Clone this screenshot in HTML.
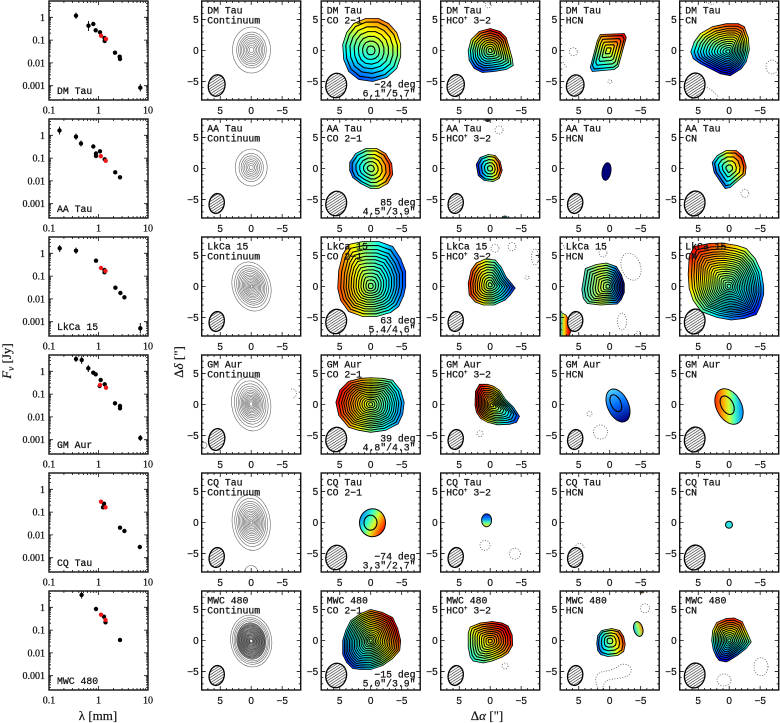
<!DOCTYPE html>
<html><head><meta charset="utf-8"><style>
html,body{margin:0;padding:0;background:#fff;}
svg{display:block;}
</style></head><body>
<svg width="780" height="723" viewBox="0 0 780 723" xmlns="http://www.w3.org/2000/svg" xmlns:xlink="http://www.w3.org/1999/xlink">
<defs>
<linearGradient id="jet">
<stop offset="0" stop-color="#000090"/><stop offset=".11" stop-color="#0000ff"/><stop offset=".36" stop-color="#00ffff"/><stop offset=".5" stop-color="#80ff80"/><stop offset=".62" stop-color="#ffff00"/><stop offset=".87" stop-color="#ff0000"/><stop offset="1" stop-color="#800000"/>
</linearGradient>
<linearGradient id="g1" xlink:href="#jet" gradientUnits="userSpaceOnUse" x1="-8" y1="51.7" x2="32" y2="-51.9"/>
<linearGradient id="g2" xlink:href="#jet" gradientUnits="userSpaceOnUse" x1="-15" y1="28.4" x2="5" y2="-27.6"/>
<linearGradient id="g3" xlink:href="#jet" gradientUnits="userSpaceOnUse" x1="-22.9" y1="37.1" x2="13.5" y2="-26.5"/>
<linearGradient id="g4" xlink:href="#jet" gradientUnits="userSpaceOnUse" x1="-0.5" y1="27.3" x2="9.9" y2="-38.9"/>
<linearGradient id="g5" xlink:href="#jet" gradientUnits="userSpaceOnUse" x1="-32.9" y1="6" x2="31.7" y2="-6"/>
<linearGradient id="g6" xlink:href="#jet" gradientUnits="userSpaceOnUse" x1="-17.5" y1="0.5" x2="16.7" y2="-4.7"/>
<linearGradient id="g7" xlink:href="#jet" gradientUnits="userSpaceOnUse" x1="-24.2" y1="4.7" x2="16.9" y2="-18.8"/>
<linearGradient id="g8" xlink:href="#jet" gradientUnits="userSpaceOnUse" x1="54.7" y1="-5" x2="-53.7" y2="8"/>
<linearGradient id="g9" xlink:href="#jet" gradientUnits="userSpaceOnUse" x1="33.9" y1="0" x2="-31.9" y2="0"/>
<linearGradient id="g10" gradientUnits="userSpaceOnUse" x1="-27" y1="0" x2="16" y2="0">
<stop offset="0" stop-color="#30d0c8"/><stop offset=".2" stop-color="#70f0a0"/><stop offset=".45" stop-color="#d0ff40"/><stop offset=".6" stop-color="#90ff70"/><stop offset=".75" stop-color="#00a8ff"/><stop offset=".9" stop-color="#0030d0"/><stop offset="1" stop-color="#000080"/>
</linearGradient>
<linearGradient id="g11" xlink:href="#jet" gradientUnits="userSpaceOnUse" x1="35.7" y1="39.7" x2="-45.1" y2="-49.3"/>
<linearGradient id="g12" xlink:href="#jet" gradientUnits="userSpaceOnUse" x1="55.4" y1="20.7" x2="-46.2" y2="-6.2"/>
<linearGradient id="g13" xlink:href="#jet" gradientUnits="userSpaceOnUse" x1="38" y1="11.7" x2="-22" y2="-6.9"/>
<linearGradient id="g14" gradientUnits="userSpaceOnUse" x1="0" y1="-17" x2="0" y2="17">
<stop offset="0" stop-color="#50d0ff"/><stop offset=".45" stop-color="#0070ff"/><stop offset="1" stop-color="#000080"/>
</linearGradient>
<linearGradient id="g15" gradientUnits="userSpaceOnUse" x1="-12" y1="-6" x2="12" y2="6">
<stop offset="0" stop-color="#ff3000"/><stop offset=".3" stop-color="#ffb000"/><stop offset=".5" stop-color="#d0ff30"/><stop offset=".7" stop-color="#40ffc0"/><stop offset="1" stop-color="#0090ff"/>
</linearGradient>
<linearGradient id="g16" gradientUnits="userSpaceOnUse" x1="-12" y1="-8" x2="12" y2="4">
<stop offset="0" stop-color="#0080ff"/><stop offset=".35" stop-color="#30ffd0"/><stop offset=".6" stop-color="#d0ff30"/><stop offset=".8" stop-color="#ff9000"/><stop offset="1" stop-color="#ff2000"/>
</linearGradient>
<linearGradient id="g17" gradientUnits="userSpaceOnUse" x1="0" y1="-6.5" x2="0" y2="6.5">
<stop offset="0" stop-color="#0020e0"/><stop offset=".4" stop-color="#0090ff"/><stop offset=".7" stop-color="#60ffa0"/><stop offset="1" stop-color="#ffe000"/>
</linearGradient>
<linearGradient id="g18" xlink:href="#jet" gradientUnits="userSpaceOnUse" x1="-35.6" y1="27" x2="35.1" y2="-19.7"/>
<linearGradient id="g19" xlink:href="#jet" gradientUnits="userSpaceOnUse" x1="-43.3" y1="43.3" x2="23.3" y2="-18.1"/>
<linearGradient id="g20" xlink:href="#jet" gradientUnits="userSpaceOnUse" x1="-21.6" y1="6" x2="21.5" y2="-5"/>
<linearGradient id="g21" gradientUnits="userSpaceOnUse" x1="-4.5" y1="0" x2="4.5" y2="0">
<stop offset="0" stop-color="#00c0ff"/><stop offset=".5" stop-color="#a0ff60"/><stop offset="1" stop-color="#ff8000"/>
</linearGradient>
<linearGradient id="g22" xlink:href="#jet" gradientUnits="userSpaceOnUse" x1="-0.3" y1="25.5" x2="3.6" y2="-30.4"/>
<linearGradient id="g23" gradientUnits="userSpaceOnUse" x1="560.5" y1="0" x2="571" y2="0">
<stop offset="0" stop-color="#20c0c0"/><stop offset=".35" stop-color="#ffe000"/><stop offset=".7" stop-color="#ff2000"/><stop offset="1" stop-color="#c00000"/>
</linearGradient>
<pattern id="ht" patternUnits="userSpaceOnUse" width="3.2" height="3.2"><rect width="3.2" height="3.2" fill="#fff"/><path d="M-0.8,0.8L0.8,-0.8M0,3.2L3.2,0M2.4,4L4,2.4" stroke="#000" stroke-width="0.55"/></pattern>

<g id="mf">
<rect x="-49.5" y="-49.5" width="99" height="99" fill="none" stroke="#111" stroke-width="1.4"/>
<path fill="none" stroke="#111" stroke-width="0.8" d="M-30.95,49.5v-4M0,49.5v-4M30.95,49.5v-4M-30.95,-49.5v4M0,-49.5v4M30.95,-49.5v4M-49.5,-30.95h4M-49.5,0h4M-49.5,30.95h4M49.5,-30.95h-4M49.5,0h-4M49.5,30.95h-4
M-43.33,49.5v-2M-37.14,49.5v-2M-24.76,49.5v-2M-18.57,49.5v-2M-12.38,49.5v-2M-6.19,49.5v-2M6.19,49.5v-2M12.38,49.5v-2M18.57,49.5v-2M24.76,49.5v-2M37.14,49.5v-2M43.33,49.5v-2
M-43.33,-49.5v2M-37.14,-49.5v2M-24.76,-49.5v2M-18.57,-49.5v2M-12.38,-49.5v2M-6.19,-49.5v2M6.19,-49.5v2M12.38,-49.5v2M18.57,-49.5v2M24.76,-49.5v2M37.14,-49.5v2M43.33,-49.5v2
M-49.5,-43.33h2M-49.5,-37.14h2M-49.5,-24.76h2M-49.5,-18.57h2M-49.5,-12.38h2M-49.5,-6.19h2M-49.5,6.19h2M-49.5,12.38h2M-49.5,18.57h2M-49.5,24.76h2M-49.5,37.14h2M-49.5,43.33h2
M49.5,-43.33h-2M49.5,-37.14h-2M49.5,-24.76h-2M49.5,-18.57h-2M49.5,-12.38h-2M49.5,-6.19h-2M49.5,6.19h-2M49.5,12.38h-2M49.5,18.57h-2M49.5,24.76h-2M49.5,37.14h-2M49.5,43.33h-2"/>
</g>

<g id="sf">
<rect x="0" y="0" width="99" height="99" fill="none" stroke="#111" stroke-width="1.4"/>
<path fill="none" stroke="#111" stroke-width="0.8" d="M49.5,99v-4M49.5,0v4
M14.9,99v-2M23.6,99v-2M29.8,99v-2M34.6,99v-2M38.5,99v-2M41.8,99v-2M44.7,99v-2M47.2,99v-2M64.4,99v-2M73.1,99v-2M79.3,99v-2M84.1,99v-2M88,99v-2M91.3,99v-2M94.2,99v-2M96.7,99v-2
M14.9,0v2M23.6,0v2M29.8,0v2M34.6,0v2M38.5,0v2M41.8,0v2M44.7,0v2M47.2,0v2M64.4,0v2M73.1,0v2M79.3,0v2M84.1,0v2M88,0v2M91.3,0v2M94.2,0v2M96.7,0v2
M0,16.3h4M0,39.1h4M0,61.9h4M0,84.7h4M99,16.3h-4M99,39.1h-4M99,61.9h-4M99,84.7h-4
M0,2.6h2M0,5.4h2M0,9.4h2M0,17.3h2M0,18.5h2M0,19.8h2M0,21.4h2M0,23.2h2M0,25.4h2M0,28.2h2M0,32.2h2M0,40.1h2M0,41.3h2M0,42.6h2M0,44.2h2M0,46h2M0,48.2h2M0,51h2M0,55h2M0,62.9h2M0,64.1h2M0,65.4h2M0,67h2M0,68.8h2M0,71h2M0,73.8h2M0,77.8h2M0,85.7h2M0,86.9h2M0,88.2h2M0,89.8h2M0,91.6h2M0,93.8h2M0,96.6h2
M99,2.6h-2M99,5.4h-2M99,9.4h-2M99,17.3h-2M99,18.5h-2M99,19.8h-2M99,21.4h-2M99,23.2h-2M99,25.4h-2M99,28.2h-2M99,32.2h-2M99,40.1h-2M99,41.3h-2M99,42.6h-2M99,44.2h-2M99,46h-2M99,48.2h-2M99,51h-2M99,55h-2M99,62.9h-2M99,64.1h-2M99,65.4h-2M99,67h-2M99,68.8h-2M99,71h-2M99,73.8h-2M99,77.8h-2M99,85.7h-2M99,86.9h-2M99,88.2h-2M99,89.8h-2M99,91.6h-2M99,93.8h-2M99,96.6h-2"/>
</g>

<path id="s1" vector-effect="non-scaling-stroke" d="M-28,-6 L-24,-18 L-17,-27 L-5,-32 L8,-32 L18,-27 L26,-18 L30,-6 L30,6 L26,18 L16,27 L2,31 L-12,29 L-22,21 L-27,9 Z"/>
<path id="s2" vector-effect="non-scaling-stroke" d="M-22,0 L-19,-11 L-11,-19 L0,-22 L10,-19 L16,-13 L19,-3 L22,8 L23,15 L16,19 L4,21 L-8,22 L-16,18 L-21,10 Z"/>
<path id="s3" vector-effect="non-scaling-stroke" d="M-8,-16 L16,-17 L18,-13 L10,16 L6,19 L-16,21 L-18,17 L-11,-10 Z"/>
<path id="s4" vector-effect="non-scaling-stroke" d="M-37.5,0 L-34,-10 L-28,-18 L-16,-25 L-2,-28 L10,-28 L16,-25 L20,-14 L21,-2 L18,10 L13,17 L2,24 L-8,22 L-18,17 L-28,12 L-35,7 Z"/>
<path id="s5" vector-effect="non-scaling-stroke" d="M-21,-6 L-15,-15 L-5,-20 L6,-20 L15,-15 L21,-5 L22,6 L17,15 L8,20 L0,20 L-10,15 L-18,9 L-21,2 Z"/>
<path id="s6" vector-effect="non-scaling-stroke" d="M-14,-4 L-10,-11 L-2,-14 L5,-13 L10,-7 L12,2 L9,10 L3,13 L-6,12 L-12,7 Z"/>
<path id="s7" vector-effect="non-scaling-stroke" d="M-17,-6 L-12,-13 L-3,-18 L7,-18 L14,-12 L17,-2 L16,6 L9,12 L1,19 L-4,20 L-9,13 L-15,4 Z"/>
<path id="s8" vector-effect="non-scaling-stroke" d="M-32,-16 L-28,-32 L-22,-42 L-8,-45 L8,-45 L22,-40 L30,-28 L35,-15 L35,0 L33,9 L28,20 L20,26 L6,30 L-8,30 L-22,25 L-30,14 L-33,2 Z"/>
<path id="s9" vector-effect="non-scaling-stroke" d="M-22,-2 L-19,-15 L-14,-22 L-5,-26 L5,-25 L11,-18 L16,-8 L21,-2 L25,3 L20,10 L15,15 L4,20 L-7,20 L-15,17 L-21,10 Z"/>
<path id="s10" vector-effect="non-scaling-stroke" d="M-26.5,3 L-25,-6 L-23,-18 L-12,-22 L-2,-23.5 L8,-20 L13,-12 L16,-3 L16,6 L13,13 L9,17.5 L-8,18.5 L-21,17 L-25,12 Z"/>
<path id="s11" vector-effect="non-scaling-stroke" d="M-41,-12 L-40,-30 L-35,-40 L-20,-43 L-7,-43.5 L8,-41 L17,-38 L26,-28 L32,-15 L34.5,0 L34.5,8 L31,20 L27,28 L15,32 L2,33.5 L-12,31 L-28,25 L-36,14 L-40,2 Z"/>
<path id="s12" vector-effect="non-scaling-stroke" d="M-34.8,-2 L-31,-14 L-22,-23 L-10,-26 L0,-26.5 L12,-26 L22,-24 L30,-14 L33.5,-2 L32,10 L27.5,19.5 L15,26 L0,28 L-12,26 L-22,23 L-32,11 Z"/>
<path id="s13" vector-effect="non-scaling-stroke" d="M-16.5,0 L-16,-14 L-12,-21 L-4,-21 L2,-19 L8,-15 L14,-6 L22,2 L28,11 L25,17 L18,19 L6,19.5 L-4,17 L-11,13 L-15,7 Z"/>
<path id="s14" vector-effect="non-scaling-stroke" d="M0,-31 L12,-28 L22,-23 L27,-12 L30,0 L29,10 L22,18 L12,25 L0,29 L-10,29 L-18,28 L-24,22 L-28,14 L-28,0 L-25,-10 L-20,-20 L-10,-27 Z"/>
<path id="s15" vector-effect="non-scaling-stroke" d="M-22,-8 L-20,-14 L-10,-18 L2,-19.5 L12,-18 L18,-15 L22,-6 L22.5,4 L18,12 L12,16 L2,20 L-7,22 L-17,20 L-20,16 L-22,6 Z"/>
<path id="s16" vector-effect="non-scaling-stroke" d="M-13,3 L-12,-5 L-8,-10 L2,-12 L10,-10 L14,-4 L15.5,4 L14,11 L8,15 L-2,16 L-9,14 L-12,10 Z"/>
<path id="s17" vector-effect="non-scaling-stroke" d="M-17.5,0 L-16.5,-10 L-12.5,-18 L-3,-22 L5,-22.5 L13,-19 L17,-10 L22,1.5 L17,8 L8,15 L0,20 L-3,21.5 L-10,20 L-13,16 L-16,9 Z"/>

<ellipse id="c1" rx="19" ry="23" vector-effect="non-scaling-stroke"/>
<ellipse id="c2" rx="16" ry="18.5" vector-effect="non-scaling-stroke"/>
<ellipse id="c3" rx="19" ry="25" vector-effect="non-scaling-stroke"/>
<ellipse id="c4" rx="19.5" ry="27" vector-effect="non-scaling-stroke"/>
<ellipse id="c5" rx="19" ry="28" vector-effect="non-scaling-stroke"/>
<ellipse id="c6" rx="20.5" ry="26" vector-effect="non-scaling-stroke"/>
</defs>

<rect width="780" height="723" fill="#fff"/>

<!-- ========== CONTINUUM ========== -->
<g fill="none" stroke="#666" stroke-width="0.6">
<g transform="translate(251.5,50)"><use xlink:href="#c1"/><use xlink:href="#c1" transform="scale(.78)"/><use xlink:href="#c1" transform="scale(.68)"/><use xlink:href="#c1" transform="scale(.6)"/><use xlink:href="#c1" transform="scale(.52)"/><use xlink:href="#c1" transform="scale(.44)"/><use xlink:href="#c1" transform="scale(.36)"/><use xlink:href="#c1" transform="scale(.28)"/><use xlink:href="#c1" transform="scale(.2)"/><use xlink:href="#c1" transform="scale(.12)"/></g>
<g transform="translate(251.2,167.5)"><use xlink:href="#c2"/><use xlink:href="#c2" transform="scale(.76)"/><use xlink:href="#c2" transform="scale(.63)"/><use xlink:href="#c2" transform="scale(.52)"/><use xlink:href="#c2" transform="scale(.42)"/><use xlink:href="#c2" transform="scale(.32)"/><use xlink:href="#c2" transform="scale(.22)"/><use xlink:href="#c2" transform="scale(.12)"/></g>
<g transform="translate(251.5,286.5) rotate(-18)"><use xlink:href="#c3"/><use xlink:href="#c3" transform="scale(.86)"/><use xlink:href="#c3" transform="scale(.76)"/><use xlink:href="#c3" transform="scale(.68)"/><use xlink:href="#c3" transform="scale(.61)"/><use xlink:href="#c3" transform="scale(.54)"/><use xlink:href="#c3" transform="scale(.47)"/><use xlink:href="#c3" transform="scale(.41)"/><use xlink:href="#c3" transform="scale(.35)"/><use xlink:href="#c3" transform="scale(.29)"/><use xlink:href="#c3" transform="scale(.23)"/><use xlink:href="#c3" transform="scale(.17)"/><use xlink:href="#c3" transform="scale(.11)"/><use xlink:href="#c3" transform="scale(.06)"/></g>
<g transform="translate(251.2,404) rotate(-8)"><use xlink:href="#c4"/><use xlink:href="#c4" transform="scale(.86)"/><use xlink:href="#c4" transform="scale(.75)"/><use xlink:href="#c4" transform="scale(.66)"/><use xlink:href="#c4" transform="scale(.58)"/><use xlink:href="#c4" transform="scale(.51)"/><use xlink:href="#c4" transform="scale(.45)"/><use xlink:href="#c4" transform="scale(.39)"/><use xlink:href="#c4" transform="scale(.33)"/><use xlink:href="#c4" transform="scale(.28)"/><use xlink:href="#c4" transform="scale(.23)"/><use xlink:href="#c4" transform="scale(.18)"/><use xlink:href="#c4" transform="scale(.13)"/><use xlink:href="#c4" transform="scale(.08)"/></g>
<g transform="translate(251.2,522.5) rotate(-6)"><use xlink:href="#c5"/><use xlink:href="#c5" transform="scale(.86)"/><use xlink:href="#c5" transform="scale(.76)"/><use xlink:href="#c5" transform="scale(.68)"/><use xlink:href="#c5" transform="scale(.61)"/><use xlink:href="#c5" transform="scale(.54)"/><use xlink:href="#c5" transform="scale(.47)"/><use xlink:href="#c5" transform="scale(.41)"/><use xlink:href="#c5" transform="scale(.35)"/><use xlink:href="#c5" transform="scale(.29)"/><use xlink:href="#c5" transform="scale(.23)"/><use xlink:href="#c5" transform="scale(.17)"/><use xlink:href="#c5" transform="scale(.11)"/><use xlink:href="#c5" transform="scale(.06)"/></g>
<g transform="translate(251.2,641) rotate(-8)"><use xlink:href="#c6"/><use xlink:href="#c6" transform="scale(.9)"/><use xlink:href="#c6" transform="scale(.83)"/><use xlink:href="#c6" transform="scale(.77)"/>
<g stroke="#333"><use xlink:href="#c6" transform="scale(.7)"/><use xlink:href="#c6" transform="scale(.665)"/><use xlink:href="#c6" transform="scale(.63)"/><use xlink:href="#c6" transform="scale(.595)"/><use xlink:href="#c6" transform="scale(.56)"/><use xlink:href="#c6" transform="scale(.525)"/><use xlink:href="#c6" transform="scale(.49)"/><use xlink:href="#c6" transform="scale(.455)"/><use xlink:href="#c6" transform="scale(.42)"/><use xlink:href="#c6" transform="scale(.385)"/><use xlink:href="#c6" transform="scale(.35)"/><use xlink:href="#c6" transform="scale(.315)"/><use xlink:href="#c6" transform="scale(.28)"/><use xlink:href="#c6" transform="scale(.245)"/><use xlink:href="#c6" transform="scale(.21)"/><use xlink:href="#c6" transform="scale(.175)"/><use xlink:href="#c6" transform="scale(.14)"/><use xlink:href="#c6" transform="scale(.105)"/><use xlink:href="#c6" transform="scale(.07)"/></g></g>
<circle cx="204" cy="445.3" r="3"/>
<path d="M244.7,572 A6.5,6.5 0 0 1 257.7,572"/>
</g>

<!-- ========== COLOUR MAPS ========== -->
<g transform="translate(370.7,50.5)"><use xlink:href="#s1" fill="url(#g1)"/><g fill="none" stroke="#000" stroke-width="1.1"><use xlink:href="#s1" stroke-width=".8"/><use xlink:href="#s1" transform="scale(.14)"/><use xlink:href="#s1" transform="scale(.29)"/><use xlink:href="#s1" transform="scale(.44)"/><use xlink:href="#s1" transform="scale(.59)"/><use xlink:href="#s1" transform="scale(.74)"/><use xlink:href="#s1" transform="scale(.89)"/></g></g>
<g transform="translate(490.2,50.5)"><use xlink:href="#s2" fill="url(#g2)"/><g fill="none" stroke="#000" stroke-width="1.1"><use xlink:href="#s2" stroke-width=".8"/><use xlink:href="#s2" transform="scale(.09)"/><use xlink:href="#s2" transform="scale(.19)"/><use xlink:href="#s2" transform="scale(.29)"/><use xlink:href="#s2" transform="scale(.39)"/><use xlink:href="#s2" transform="scale(.49)"/><use xlink:href="#s2" transform="scale(.59)"/><use xlink:href="#s2" transform="scale(.69)"/><use xlink:href="#s2" transform="scale(.79)"/><use xlink:href="#s2" transform="scale(.9)"/></g></g>
<g transform="translate(608.3,50.5)"><use xlink:href="#s3" fill="url(#g3)"/><g fill="none" stroke="#000" stroke-width="1.1"><use xlink:href="#s3" stroke-width=".8"/><use xlink:href="#s3" transform="scale(.16)"/><use xlink:href="#s3" transform="scale(.34)"/><use xlink:href="#s3" transform="scale(.52)"/><use xlink:href="#s3" transform="scale(.7)"/><use xlink:href="#s3" transform="scale(.88)"/></g></g>
<g transform="translate(728.3,51.7)"><use xlink:href="#s4" fill="url(#g4)"/><g fill="none" stroke="#000" stroke-width="1"><use xlink:href="#s4" stroke-width=".8"/><use xlink:href="#s4" transform="scale(.07)"/><use xlink:href="#s4" transform="scale(.145)"/><use xlink:href="#s4" transform="scale(.22)"/><use xlink:href="#s4" transform="scale(.295)"/><use xlink:href="#s4" transform="scale(.37)"/><use xlink:href="#s4" transform="scale(.445)"/><use xlink:href="#s4" transform="scale(.52)"/><use xlink:href="#s4" transform="scale(.595)"/><use xlink:href="#s4" transform="scale(.67)"/><use xlink:href="#s4" transform="scale(.745)"/><use xlink:href="#s4" transform="scale(.82)"/><use xlink:href="#s4" transform="scale(.91)"/></g></g>

<g transform="translate(370.7,168.5)"><use xlink:href="#s5" fill="url(#g5)"/><g fill="none" stroke="#000" stroke-width="1.1"><use xlink:href="#s5" stroke-width=".8"/><use xlink:href="#s5" transform="scale(.16)"/><use xlink:href="#s5" transform="scale(.34)"/><use xlink:href="#s5" transform="scale(.52)"/><use xlink:href="#s5" transform="scale(.7)"/><use xlink:href="#s5" transform="scale(.88)"/></g></g>
<g transform="translate(490.2,168.5)"><use xlink:href="#s6" fill="url(#g6)"/><g fill="none" stroke="#000" stroke-width="1.1"><use xlink:href="#s6" stroke-width=".8"/><use xlink:href="#s6" transform="scale(.2)"/><use xlink:href="#s6" transform="scale(.42)"/><use xlink:href="#s6" transform="scale(.64)"/><use xlink:href="#s6" transform="scale(.86)"/></g></g>
<ellipse cx="606.5" cy="171.5" rx="4.5" ry="9" transform="rotate(10 606.5 171.5)" fill="#00007a" stroke="#000" stroke-width=".6"/>
<g transform="translate(729.2,168.5)"><use xlink:href="#s7" fill="url(#g7)"/><g fill="none" stroke="#000" stroke-width="1.1"><use xlink:href="#s7" stroke-width=".8"/><use xlink:href="#s7" transform="scale(.2)"/><use xlink:href="#s7" transform="scale(.42)"/><use xlink:href="#s7" transform="scale(.64)"/><use xlink:href="#s7" transform="scale(.86)"/></g></g>

<g transform="translate(370.7,286.5)"><use xlink:href="#s8" fill="url(#g8)"/><g fill="none" stroke="#000" stroke-width="1.05"><use xlink:href="#s8" stroke-width=".8"/><use xlink:href="#s8" transform="scale(.07)"/><use xlink:href="#s8" transform="scale(.145)"/><use xlink:href="#s8" transform="scale(.22)"/><use xlink:href="#s8" transform="scale(.295)"/><use xlink:href="#s8" transform="scale(.37)"/><use xlink:href="#s8" transform="scale(.445)"/><use xlink:href="#s8" transform="scale(.52)"/><use xlink:href="#s8" transform="scale(.595)"/><use xlink:href="#s8" transform="scale(.67)"/><use xlink:href="#s8" transform="scale(.745)"/><use xlink:href="#s8" transform="scale(.82)"/><use xlink:href="#s8" transform="scale(.91)"/></g></g>
<g transform="translate(490.2,285)"><use xlink:href="#s9" fill="url(#g9)"/><g fill="none" stroke="#000" stroke-width="1.05"><use xlink:href="#s9" stroke-width=".8"/><use xlink:href="#s9" transform="scale(.09)"/><use xlink:href="#s9" transform="scale(.19)"/><use xlink:href="#s9" transform="scale(.29)"/><use xlink:href="#s9" transform="scale(.39)"/><use xlink:href="#s9" transform="scale(.49)"/><use xlink:href="#s9" transform="scale(.59)"/><use xlink:href="#s9" transform="scale(.69)"/><use xlink:href="#s9" transform="scale(.79)"/><use xlink:href="#s9" transform="scale(.9)"/></g></g>
<path d="M560.5,312 L566,315 L570,322 L571.5,330 L569,336 L560.5,336 Z" fill="url(#g23)" stroke="#000" stroke-width=".7"/>
<g transform="translate(608.3,286.5)"><use xlink:href="#s10" fill="url(#g10)"/><g fill="none" stroke="#000" stroke-width="1.05"><use xlink:href="#s10" stroke-width=".8"/><use xlink:href="#s10" transform="scale(.09)"/><use xlink:href="#s10" transform="scale(.19)"/><use xlink:href="#s10" transform="scale(.29)"/><use xlink:href="#s10" transform="scale(.39)"/><use xlink:href="#s10" transform="scale(.49)"/><use xlink:href="#s10" transform="scale(.59)"/><use xlink:href="#s10" transform="scale(.69)"/><use xlink:href="#s10" transform="scale(.79)"/><use xlink:href="#s10" transform="scale(.9)"/></g></g>
<g transform="translate(729.2,286.5)"><use xlink:href="#s11" fill="url(#g11)"/><g fill="none" stroke="#000" stroke-width=".95"><use xlink:href="#s11" stroke-width=".8"/><use xlink:href="#s11" transform="scale(.05)"/><use xlink:href="#s11" transform="scale(.1)"/><use xlink:href="#s11" transform="scale(.15)"/><use xlink:href="#s11" transform="scale(.2)"/><use xlink:href="#s11" transform="scale(.25)"/><use xlink:href="#s11" transform="scale(.3)"/><use xlink:href="#s11" transform="scale(.35)"/><use xlink:href="#s11" transform="scale(.4)"/><use xlink:href="#s11" transform="scale(.45)"/><use xlink:href="#s11" transform="scale(.5)"/><use xlink:href="#s11" transform="scale(.55)"/><use xlink:href="#s11" transform="scale(.6)"/><use xlink:href="#s11" transform="scale(.65)"/><use xlink:href="#s11" transform="scale(.7)"/><use xlink:href="#s11" transform="scale(.75)"/><use xlink:href="#s11" transform="scale(.8)"/><use xlink:href="#s11" transform="scale(.86)"/><use xlink:href="#s11" transform="scale(.92)"/></g></g>

<g transform="translate(370.7,404.3)"><use xlink:href="#s12" fill="url(#g12)"/><g fill="none" stroke="#000" stroke-width="1"><use xlink:href="#s12" stroke-width=".8"/><use xlink:href="#s12" transform="scale(.06)"/><use xlink:href="#s12" transform="scale(.125)"/><use xlink:href="#s12" transform="scale(.19)"/><use xlink:href="#s12" transform="scale(.255)"/><use xlink:href="#s12" transform="scale(.32)"/><use xlink:href="#s12" transform="scale(.385)"/><use xlink:href="#s12" transform="scale(.45)"/><use xlink:href="#s12" transform="scale(.515)"/><use xlink:href="#s12" transform="scale(.58)"/><use xlink:href="#s12" transform="scale(.645)"/><use xlink:href="#s12" transform="scale(.71)"/><use xlink:href="#s12" transform="scale(.775)"/><use xlink:href="#s12" transform="scale(.84)"/><use xlink:href="#s12" transform="scale(.92)"/></g></g>
<g transform="translate(491.5,405.3)"><use xlink:href="#s13" fill="url(#g13)"/><g fill="none" stroke="#000" stroke-width="1.05"><use xlink:href="#s13" stroke-width=".8"/><use xlink:href="#s13" transform="scale(.08)"/><use xlink:href="#s13" transform="scale(.17)"/><use xlink:href="#s13" transform="scale(.26)"/><use xlink:href="#s13" transform="scale(.35)"/><use xlink:href="#s13" transform="scale(.44)"/><use xlink:href="#s13" transform="scale(.53)"/><use xlink:href="#s13" transform="scale(.62)"/><use xlink:href="#s13" transform="scale(.71)"/><use xlink:href="#s13" transform="scale(.8)"/><use xlink:href="#s13" transform="scale(.9)"/></g></g>
<g transform="translate(618,405.5) rotate(-25)"><ellipse rx="10.5" ry="17.5" fill="url(#g14)" stroke="#000" stroke-width=".9"/><ellipse cx="-1" cy="-3" rx="5" ry="9" fill="none" stroke="#000" stroke-width="1.1"/></g>
<g transform="translate(729,406.5) rotate(-28)"><ellipse rx="12.5" ry="19" fill="url(#g15)" stroke="#000" stroke-width=".9"/><ellipse cx="-1" cy="-2" rx="6" ry="10" fill="none" stroke="#000" stroke-width="1.1"/></g>

<g transform="translate(372.5,522.7)"><ellipse rx="13" ry="14" fill="url(#g16)" stroke="#000" stroke-width="1"/><ellipse cx="-2" cy="0" rx="6.5" ry="7.5" fill="none" stroke="#000" stroke-width="1.1"/></g>
<g transform="translate(486.6,520.3)"><ellipse rx="5" ry="6.5" fill="url(#g17)" stroke="#000" stroke-width=".9"/></g>
<circle cx="729" cy="524.7" r="3.5" fill="#30e0e0" stroke="#000" stroke-width="1"/>

<g transform="translate(370.7,640.5)"><use xlink:href="#s14" fill="url(#g18)"/><g fill="none" stroke="#000" stroke-width="1"><use xlink:href="#s14" stroke-width=".8"/><use xlink:href="#s14" transform="scale(.055)"/><use xlink:href="#s14" transform="scale(.11)"/><use xlink:href="#s14" transform="scale(.165)"/><use xlink:href="#s14" transform="scale(.22)"/><use xlink:href="#s14" transform="scale(.28)"/><use xlink:href="#s14" transform="scale(.34)"/><use xlink:href="#s14" transform="scale(.4)"/><use xlink:href="#s14" transform="scale(.46)"/><use xlink:href="#s14" transform="scale(.52)"/><use xlink:href="#s14" transform="scale(.58)"/><use xlink:href="#s14" transform="scale(.64)"/><use xlink:href="#s14" transform="scale(.7)"/><use xlink:href="#s14" transform="scale(.76)"/><use xlink:href="#s14" transform="scale(.82)"/><use xlink:href="#s14" transform="scale(.88)"/><use xlink:href="#s14" transform="scale(.94)"/></g></g>
<g transform="translate(490.2,641)"><use xlink:href="#s15" fill="url(#g19)"/><g fill="none" stroke="#000" stroke-width="1.05"><use xlink:href="#s15" stroke-width=".8"/><use xlink:href="#s15" transform="scale(.09)"/><use xlink:href="#s15" transform="scale(.19)"/><use xlink:href="#s15" transform="scale(.29)"/><use xlink:href="#s15" transform="scale(.39)"/><use xlink:href="#s15" transform="scale(.49)"/><use xlink:href="#s15" transform="scale(.59)"/><use xlink:href="#s15" transform="scale(.69)"/><use xlink:href="#s15" transform="scale(.79)"/><use xlink:href="#s15" transform="scale(.9)"/></g></g>
<g transform="translate(609.7,640.5)"><use xlink:href="#s16" fill="url(#g20)"/><g fill="none" stroke="#000" stroke-width="1.1"><use xlink:href="#s16" stroke-width=".8"/><use xlink:href="#s16" transform="scale(.2)"/><use xlink:href="#s16" transform="scale(.42)"/><use xlink:href="#s16" transform="scale(.64)"/><use xlink:href="#s16" transform="scale(.86)"/></g></g>
<g transform="translate(638.3,629) rotate(-15)"><ellipse rx="4.5" ry="7.5" fill="url(#g21)" stroke="#000" stroke-width="1"/></g>
<g transform="translate(729.2,640.5)"><use xlink:href="#s17" fill="url(#g22)"/><g fill="none" stroke="#000" stroke-width="1.05"><use xlink:href="#s17" stroke-width=".8"/><use xlink:href="#s17" transform="scale(.08)"/><use xlink:href="#s17" transform="scale(.17)"/><use xlink:href="#s17" transform="scale(.26)"/><use xlink:href="#s17" transform="scale(.35)"/><use xlink:href="#s17" transform="scale(.44)"/><use xlink:href="#s17" transform="scale(.53)"/><use xlink:href="#s17" transform="scale(.62)"/><use xlink:href="#s17" transform="scale(.71)"/><use xlink:href="#s17" transform="scale(.8)"/><use xlink:href="#s17" transform="scale(.9)"/></g></g>

<ellipse cx="487.6" cy="120.5" rx="2.5" ry="1.5" fill="#222"/>
<ellipse cx="505" cy="217" rx="2.5" ry="1.5" fill="#205050"/>
<ellipse cx="641.8" cy="592" rx="2.5" ry="1.5" fill="#543"/>

<g fill="none" stroke="#555" stroke-width=".8" stroke-dasharray="1 1.6">
<circle cx="488.3" cy="5" r="3"/>
<circle cx="573.3" cy="51.7" r="4"/>
<circle cx="610" cy="81.7" r="2"/>
<path d="M563,62 l4,6 M566,88 l3,4"/>
<ellipse cx="772" cy="67" rx="6" ry="7"/>
<path d="M702,86 Q712,88 718,97"/>
<path d="M706,2 q4,3 8,2"/>
<circle cx="499" cy="130" r="4"/>
<circle cx="744.8" cy="193.3" r="4"/>
<circle cx="495" cy="248.3" r="4"/>
<circle cx="512" cy="246.7" r="4"/>
<ellipse cx="535" cy="257" rx="3.5" ry="8"/>
<circle cx="527" cy="277.7" r="2"/>
<ellipse cx="631" cy="266.7" rx="9.5" ry="14" transform="rotate(-20 631 266.7)"/>
<circle cx="603" cy="253" r="4"/>
<ellipse cx="622" cy="321.5" rx="4.5" ry="8.5"/>
<circle cx="638" cy="333" r="2"/>
<path d="M562,243 q3,3 2,7"/>
<path d="M291,389 a4,4 0 0 1 2,9"/>
<circle cx="480" cy="433.7" r="3"/>
<circle cx="600.5" cy="432" r="7"/>
<circle cx="589.5" cy="413.7" r="2.5"/>
<circle cx="485" cy="545.3" r="5"/>
<circle cx="515" cy="553.7" r="5.5"/>
<path d="M575,548 a4.5,4.5 0 0 1 9,0"/>
<path d="M205,598 a5,5 0 0 1 8,-5"/>
<circle cx="505" cy="666" r="3"/>
<circle cx="645" cy="608.3" r="4.5"/>
<path d="M599,690 C596,684 594,678 598,674 C602,670 612,672 620,665 C628,662 634,668 630,674 C626,679 612,678 606,681 C603,684 603,688 602,690"/>
<ellipse cx="724" cy="680" rx="7" ry="6"/>
<ellipse cx="761" cy="666.7" rx="7" ry="9"/>
</g>

<g fill="url(#ht)" stroke="#000" stroke-width="1.3">
<ellipse cx="216.7" cy="85.5" rx="8.3" ry="10.8" transform="rotate(12 216.7 85.5)"/>
<ellipse cx="336.2" cy="85.5" rx="10.3" ry="12.3" transform="rotate(12 336.2 85.5)"/>
<ellipse cx="455.7" cy="85.5" rx="8.5" ry="11" transform="rotate(12 455.7 85.5)"/>
<ellipse cx="575.2" cy="85.5" rx="8.7" ry="10.7" transform="rotate(12 575.2 85.5)"/>
<ellipse cx="694.7" cy="85.5" rx="10.2" ry="12.5" transform="rotate(12 694.7 85.5)"/>
<ellipse cx="216.7" cy="203.5" rx="7.5" ry="10" transform="rotate(12 216.7 203.5)"/>
<ellipse cx="336.2" cy="203.5" rx="10.3" ry="12.3" transform="rotate(12 336.2 203.5)"/>
<ellipse cx="455.7" cy="203.5" rx="7.5" ry="10" transform="rotate(12 455.7 203.5)"/>
<ellipse cx="575.2" cy="203.5" rx="7.5" ry="10" transform="rotate(12 575.2 203.5)"/>
<ellipse cx="694.7" cy="203.5" rx="10.2" ry="12.5" transform="rotate(12 694.7 203.5)"/>
<ellipse cx="216.7" cy="321.5" rx="7.5" ry="10" transform="rotate(12 216.7 321.5)"/>
<ellipse cx="336.2" cy="321.5" rx="10.3" ry="12.3" transform="rotate(12 336.2 321.5)"/>
<ellipse cx="455.7" cy="321.5" rx="7.5" ry="10" transform="rotate(12 455.7 321.5)"/>
<ellipse cx="575.2" cy="321.5" rx="7.5" ry="10" transform="rotate(12 575.2 321.5)"/>
<ellipse cx="694.7" cy="321.5" rx="10.2" ry="12.5" transform="rotate(12 694.7 321.5)"/>
<ellipse cx="216.7" cy="439.5" rx="8" ry="11" transform="rotate(12 216.7 439.5)"/>
<ellipse cx="336.2" cy="439.5" rx="10.3" ry="12.3" transform="rotate(12 336.2 439.5)"/>
<ellipse cx="455.7" cy="439.5" rx="7.5" ry="10" transform="rotate(12 455.7 439.5)"/>
<ellipse cx="575.2" cy="439.5" rx="7.5" ry="10" transform="rotate(12 575.2 439.5)"/>
<ellipse cx="694.7" cy="439.5" rx="10.2" ry="12.5" transform="rotate(12 694.7 439.5)"/>
<ellipse cx="216.7" cy="557.5" rx="7.5" ry="10" transform="rotate(12 216.7 557.5)"/>
<ellipse cx="336.2" cy="557.5" rx="10.3" ry="12.3" transform="rotate(12 336.2 557.5)"/>
<ellipse cx="455.7" cy="557.5" rx="7.5" ry="10" transform="rotate(12 455.7 557.5)"/>
<ellipse cx="575.2" cy="557.5" rx="7.5" ry="10" transform="rotate(12 575.2 557.5)"/>
<ellipse cx="694.7" cy="557.5" rx="10.2" ry="12.5" transform="rotate(12 694.7 557.5)"/>
<ellipse cx="216.7" cy="675.5" rx="7.5" ry="10" transform="rotate(12 216.7 675.5)"/>
<ellipse cx="336.2" cy="675.5" rx="10.3" ry="12.3" transform="rotate(12 336.2 675.5)"/>
<ellipse cx="455.7" cy="675.5" rx="7.5" ry="10" transform="rotate(12 455.7 675.5)"/>
<ellipse cx="575.2" cy="675.5" rx="7.5" ry="10" transform="rotate(12 575.2 675.5)"/>
<ellipse cx="694.7" cy="675.5" rx="10.2" ry="12.5" transform="rotate(12 694.7 675.5)"/>
</g>

<use xlink:href="#sf" x="49" y="1"/><use xlink:href="#sf" x="49" y="119"/><use xlink:href="#sf" x="49" y="237"/><use xlink:href="#sf" x="49" y="355"/><use xlink:href="#sf" x="49" y="473"/><use xlink:href="#sf" x="49" y="591"/>
<use xlink:href="#mf" x="251.2" y="50.5"/><use xlink:href="#mf" x="370.7" y="50.5"/><use xlink:href="#mf" x="490.2" y="50.5"/><use xlink:href="#mf" x="609.7" y="50.5"/><use xlink:href="#mf" x="729.2" y="50.5"/>
<use xlink:href="#mf" x="251.2" y="168.5"/><use xlink:href="#mf" x="370.7" y="168.5"/><use xlink:href="#mf" x="490.2" y="168.5"/><use xlink:href="#mf" x="609.7" y="168.5"/><use xlink:href="#mf" x="729.2" y="168.5"/>
<use xlink:href="#mf" x="251.2" y="286.5"/><use xlink:href="#mf" x="370.7" y="286.5"/><use xlink:href="#mf" x="490.2" y="286.5"/><use xlink:href="#mf" x="609.7" y="286.5"/><use xlink:href="#mf" x="729.2" y="286.5"/>
<use xlink:href="#mf" x="251.2" y="404.5"/><use xlink:href="#mf" x="370.7" y="404.5"/><use xlink:href="#mf" x="490.2" y="404.5"/><use xlink:href="#mf" x="609.7" y="404.5"/><use xlink:href="#mf" x="729.2" y="404.5"/>
<use xlink:href="#mf" x="251.2" y="522.5"/><use xlink:href="#mf" x="370.7" y="522.5"/><use xlink:href="#mf" x="490.2" y="522.5"/><use xlink:href="#mf" x="609.7" y="522.5"/><use xlink:href="#mf" x="729.2" y="522.5"/>
<use xlink:href="#mf" x="251.2" y="640.5"/><use xlink:href="#mf" x="370.7" y="640.5"/><use xlink:href="#mf" x="490.2" y="640.5"/><use xlink:href="#mf" x="609.7" y="640.5"/><use xlink:href="#mf" x="729.2" y="640.5"/>

<g stroke="#000" stroke-width=".9">
<path d="M76,12.5V19M88.5,21V31M140.3,84V91.5M59.5,126.5V134.5M76,133.5V140M81,140.5V146.5M59.7,245V252M76,247.5V254M140.3,323V333.5M76,356V362M81.7,356V364M88.3,365V372M140.3,435V441M81.6,591.5V598.5"/>
</g>
<g fill="#000">
<circle cx="76" cy="15.7" r="2.2"/><circle cx="88.5" cy="25.7" r="2.2"/><circle cx="93.3" cy="24" r="2.2"/><circle cx="95.7" cy="30.3" r="2.2"/><circle cx="100" cy="32.3" r="2.2"/><circle cx="104.5" cy="38" r="2.2"/><circle cx="104.7" cy="41" r="2.2"/><circle cx="115" cy="52.7" r="2.2"/><circle cx="119.7" cy="56.7" r="2.2"/><circle cx="120" cy="59" r="2.2"/><circle cx="140.3" cy="87.7" r="2.2"/>
<circle cx="59.5" cy="130.5" r="2.2"/><circle cx="76" cy="136.7" r="2.2"/><circle cx="81" cy="143.5" r="2.2"/><circle cx="93.3" cy="146.5" r="2.2"/><circle cx="96" cy="153.5" r="2.2"/><circle cx="96" cy="156" r="2.2"/><circle cx="100" cy="151.3" r="2.2"/><circle cx="104.7" cy="159.3" r="2.2"/><circle cx="115.2" cy="172.3" r="2.2"/><circle cx="120" cy="177.3" r="2.2"/>
<circle cx="59.7" cy="248.3" r="2.2"/><circle cx="76" cy="250.7" r="2.2"/><circle cx="96" cy="260.7" r="2.2"/><circle cx="104.5" cy="270" r="2.2"/><circle cx="104.5" cy="272.3" r="2.2"/><circle cx="115.4" cy="287.7" r="2.2"/><circle cx="120.4" cy="293" r="2.2"/><circle cx="124.4" cy="297.3" r="2.2"/><circle cx="140.3" cy="328.3" r="2.2"/>
<circle cx="76" cy="359" r="2.2"/><circle cx="81.7" cy="360" r="2.2"/><circle cx="88.3" cy="368.3" r="2.2"/><circle cx="93.3" cy="372.7" r="2.2"/><circle cx="95.7" cy="374.3" r="2.2"/><circle cx="100.7" cy="380" r="2.2"/><circle cx="99.7" cy="386" r="2.2"/><circle cx="104.7" cy="384.3" r="2.2"/><circle cx="115" cy="403.3" r="2.2"/><circle cx="120" cy="406" r="2.2"/><circle cx="120" cy="408.3" r="2.2"/><circle cx="140.3" cy="438" r="2.2"/>
<circle cx="104" cy="503.7" r="2.2"/><circle cx="103" cy="507.3" r="2.2"/><circle cx="120" cy="527.7" r="2.2"/><circle cx="124.4" cy="531" r="2.2"/><circle cx="139.8" cy="547" r="2.2"/>
<circle cx="81.6" cy="595" r="2.2"/><circle cx="96" cy="609" r="2.2"/><circle cx="104" cy="616.7" r="2.2"/><circle cx="105.5" cy="622.3" r="2.2"/><circle cx="120" cy="640" r="2.2"/>
</g>
<g fill="#f01818">
<circle cx="101" cy="35.7" r="2.2"/><circle cx="106" cy="39" r="2.2"/>
<circle cx="100.8" cy="156.2" r="2.2"/><circle cx="105.7" cy="160.8" r="2.2"/>
<circle cx="101" cy="268" r="2.2"/><circle cx="105.5" cy="271" r="2.2"/>
<circle cx="100" cy="385" r="2.2"/><circle cx="106" cy="387.7" r="2.2"/>
<circle cx="101" cy="501.7" r="2.2"/><circle cx="105.5" cy="507.3" r="2.2"/>
<circle cx="101" cy="614.7" r="2.2"/><circle cx="105.5" cy="620" r="2.2"/>
</g>

<g font-family="Liberation Serif, serif" font-size="10" fill="#111" stroke="#111" stroke-width="0.25">
<g text-anchor="middle">
<text y="113.5"><tspan x="49">0.1</tspan><tspan x="98.5">1</tspan><tspan x="148">10</tspan></text>
<text y="231.5"><tspan x="49">0.1</tspan><tspan x="98.5">1</tspan><tspan x="148">10</tspan></text>
<text y="349.5"><tspan x="49">0.1</tspan><tspan x="98.5">1</tspan><tspan x="148">10</tspan></text>
<text y="467.5"><tspan x="49">0.1</tspan><tspan x="98.5">1</tspan><tspan x="148">10</tspan></text>
<text y="585.5"><tspan x="49">0.1</tspan><tspan x="98.5">1</tspan><tspan x="148">10</tspan></text>
<text y="703.5"><tspan x="49">0.1</tspan><tspan x="98.5">1</tspan><tspan x="148">10</tspan></text>
</g>
<g text-anchor="end">
<text><tspan x="45" y="20.8">1</tspan><tspan x="45" y="43.6">0.1</tspan><tspan x="45" y="66.4">0.01</tspan><tspan x="45" y="89.2">0.001</tspan></text>
<text><tspan x="45" y="138.8">1</tspan><tspan x="45" y="161.6">0.1</tspan><tspan x="45" y="184.4">0.01</tspan><tspan x="45" y="207.2">0.001</tspan></text>
<text><tspan x="45" y="256.8">1</tspan><tspan x="45" y="279.6">0.1</tspan><tspan x="45" y="302.4">0.01</tspan><tspan x="45" y="325.2">0.001</tspan></text>
<text><tspan x="45" y="374.8">1</tspan><tspan x="45" y="397.6">0.1</tspan><tspan x="45" y="420.4">0.01</tspan><tspan x="45" y="443.2">0.001</tspan></text>
<text><tspan x="45" y="492.8">1</tspan><tspan x="45" y="515.6">0.1</tspan><tspan x="45" y="538.4">0.01</tspan><tspan x="45" y="561.2">0.001</tspan></text>
<text><tspan x="45" y="610.8">1</tspan><tspan x="45" y="633.6">0.1</tspan><tspan x="45" y="656.4">0.01</tspan><tspan x="45" y="679.2">0.001</tspan></text>
</g>
</g>

<g font-family="Liberation Sans, sans-serif" font-size="10" fill="#111" stroke="#111" stroke-width="0.2">
<g text-anchor="middle">
<text y="114"><tspan x="220.2">5</tspan><tspan x="251.2">0</tspan><tspan x="282.2">−5</tspan><tspan x="339.7">5</tspan><tspan x="370.7">0</tspan><tspan x="401.7">−5</tspan><tspan x="459.2">5</tspan><tspan x="490.2">0</tspan><tspan x="521.2">−5</tspan><tspan x="578.7">5</tspan><tspan x="609.7">0</tspan><tspan x="640.7">−5</tspan><tspan x="698.2">5</tspan><tspan x="729.2">0</tspan><tspan x="760.2">−5</tspan></text>
<text y="232"><tspan x="220.2">5</tspan><tspan x="251.2">0</tspan><tspan x="282.2">−5</tspan><tspan x="339.7">5</tspan><tspan x="370.7">0</tspan><tspan x="401.7">−5</tspan><tspan x="459.2">5</tspan><tspan x="490.2">0</tspan><tspan x="521.2">−5</tspan><tspan x="578.7">5</tspan><tspan x="609.7">0</tspan><tspan x="640.7">−5</tspan><tspan x="698.2">5</tspan><tspan x="729.2">0</tspan><tspan x="760.2">−5</tspan></text>
<text y="350"><tspan x="220.2">5</tspan><tspan x="251.2">0</tspan><tspan x="282.2">−5</tspan><tspan x="339.7">5</tspan><tspan x="370.7">0</tspan><tspan x="401.7">−5</tspan><tspan x="459.2">5</tspan><tspan x="490.2">0</tspan><tspan x="521.2">−5</tspan><tspan x="578.7">5</tspan><tspan x="609.7">0</tspan><tspan x="640.7">−5</tspan><tspan x="698.2">5</tspan><tspan x="729.2">0</tspan><tspan x="760.2">−5</tspan></text>
<text y="468"><tspan x="220.2">5</tspan><tspan x="251.2">0</tspan><tspan x="282.2">−5</tspan><tspan x="339.7">5</tspan><tspan x="370.7">0</tspan><tspan x="401.7">−5</tspan><tspan x="459.2">5</tspan><tspan x="490.2">0</tspan><tspan x="521.2">−5</tspan><tspan x="578.7">5</tspan><tspan x="609.7">0</tspan><tspan x="640.7">−5</tspan><tspan x="698.2">5</tspan><tspan x="729.2">0</tspan><tspan x="760.2">−5</tspan></text>
<text y="586"><tspan x="220.2">5</tspan><tspan x="251.2">0</tspan><tspan x="282.2">−5</tspan><tspan x="339.7">5</tspan><tspan x="370.7">0</tspan><tspan x="401.7">−5</tspan><tspan x="459.2">5</tspan><tspan x="490.2">0</tspan><tspan x="521.2">−5</tspan><tspan x="578.7">5</tspan><tspan x="609.7">0</tspan><tspan x="640.7">−5</tspan><tspan x="698.2">5</tspan><tspan x="729.2">0</tspan><tspan x="760.2">−5</tspan></text>
<text y="704"><tspan x="220.2">5</tspan><tspan x="251.2">0</tspan><tspan x="282.2">−5</tspan><tspan x="339.7">5</tspan><tspan x="370.7">0</tspan><tspan x="401.7">−5</tspan><tspan x="459.2">5</tspan><tspan x="490.2">0</tspan><tspan x="521.2">−5</tspan><tspan x="578.7">5</tspan><tspan x="609.7">0</tspan><tspan x="640.7">−5</tspan><tspan x="698.2">5</tspan><tspan x="729.2">0</tspan><tspan x="760.2">−5</tspan></text>
</g>
<g text-anchor="end">
<text><tspan x="198.7" y="23">5</tspan><tspan x="198.7" y="54">0</tspan><tspan x="198.7" y="85">−5</tspan><tspan x="318.2" y="23">5</tspan><tspan x="318.2" y="54">0</tspan><tspan x="318.2" y="85">−5</tspan><tspan x="437.7" y="23">5</tspan><tspan x="437.7" y="54">0</tspan><tspan x="437.7" y="85">−5</tspan><tspan x="557.2" y="23">5</tspan><tspan x="557.2" y="54">0</tspan><tspan x="557.2" y="85">−5</tspan><tspan x="676.7" y="23">5</tspan><tspan x="676.7" y="54">0</tspan><tspan x="676.7" y="85">−5</tspan></text>
<text><tspan x="198.7" y="141">5</tspan><tspan x="198.7" y="172">0</tspan><tspan x="198.7" y="203">−5</tspan><tspan x="318.2" y="141">5</tspan><tspan x="318.2" y="172">0</tspan><tspan x="318.2" y="203">−5</tspan><tspan x="437.7" y="141">5</tspan><tspan x="437.7" y="172">0</tspan><tspan x="437.7" y="203">−5</tspan><tspan x="557.2" y="141">5</tspan><tspan x="557.2" y="172">0</tspan><tspan x="557.2" y="203">−5</tspan><tspan x="676.7" y="141">5</tspan><tspan x="676.7" y="172">0</tspan><tspan x="676.7" y="203">−5</tspan></text>
<text><tspan x="198.7" y="259">5</tspan><tspan x="198.7" y="290">0</tspan><tspan x="198.7" y="321">−5</tspan><tspan x="318.2" y="259">5</tspan><tspan x="318.2" y="290">0</tspan><tspan x="318.2" y="321">−5</tspan><tspan x="437.7" y="259">5</tspan><tspan x="437.7" y="290">0</tspan><tspan x="437.7" y="321">−5</tspan><tspan x="557.2" y="259">5</tspan><tspan x="557.2" y="290">0</tspan><tspan x="557.2" y="321">−5</tspan><tspan x="676.7" y="259">5</tspan><tspan x="676.7" y="290">0</tspan><tspan x="676.7" y="321">−5</tspan></text>
<text><tspan x="198.7" y="377">5</tspan><tspan x="198.7" y="408">0</tspan><tspan x="198.7" y="439">−5</tspan><tspan x="318.2" y="377">5</tspan><tspan x="318.2" y="408">0</tspan><tspan x="318.2" y="439">−5</tspan><tspan x="437.7" y="377">5</tspan><tspan x="437.7" y="408">0</tspan><tspan x="437.7" y="439">−5</tspan><tspan x="557.2" y="377">5</tspan><tspan x="557.2" y="408">0</tspan><tspan x="557.2" y="439">−5</tspan><tspan x="676.7" y="377">5</tspan><tspan x="676.7" y="408">0</tspan><tspan x="676.7" y="439">−5</tspan></text>
<text><tspan x="198.7" y="495">5</tspan><tspan x="198.7" y="526">0</tspan><tspan x="198.7" y="557">−5</tspan><tspan x="318.2" y="495">5</tspan><tspan x="318.2" y="526">0</tspan><tspan x="318.2" y="557">−5</tspan><tspan x="437.7" y="495">5</tspan><tspan x="437.7" y="526">0</tspan><tspan x="437.7" y="557">−5</tspan><tspan x="557.2" y="495">5</tspan><tspan x="557.2" y="526">0</tspan><tspan x="557.2" y="557">−5</tspan><tspan x="676.7" y="495">5</tspan><tspan x="676.7" y="526">0</tspan><tspan x="676.7" y="557">−5</tspan></text>
<text><tspan x="198.7" y="613">5</tspan><tspan x="198.7" y="644">0</tspan><tspan x="198.7" y="675">−5</tspan><tspan x="318.2" y="613">5</tspan><tspan x="318.2" y="644">0</tspan><tspan x="318.2" y="675">−5</tspan><tspan x="437.7" y="613">5</tspan><tspan x="437.7" y="644">0</tspan><tspan x="437.7" y="675">−5</tspan><tspan x="557.2" y="613">5</tspan><tspan x="557.2" y="644">0</tspan><tspan x="557.2" y="675">−5</tspan><tspan x="676.7" y="613">5</tspan><tspan x="676.7" y="644">0</tspan><tspan x="676.7" y="675">−5</tspan></text>
</g>
</g>

<g font-family="Liberation Mono, monospace" font-size="9.8" fill="#111" stroke="#111" stroke-width="0.25">
<text x="57" y="94">DM Tau</text><text x="57" y="212">AA Tau</text><text x="57" y="330">LkCa 15</text><text x="57" y="448">GM Aur</text><text x="57" y="566">CQ Tau</text><text x="57" y="684">MWC 480</text>

<text x="207.2" y="13.5">DM Tau</text><text x="207.2" y="23.5">Continuum</text>
<text x="326.7" y="13.5">DM Tau</text><text x="326.7" y="23.5">CO 2−1</text>
<text x="446.2" y="13.5">DM Tau</text><text x="446.2" y="23.5">HCO<tspan font-size="6" dy="-3.5">+</tspan><tspan dy="3.5"> 3−2</tspan></text>
<text x="565.7" y="13.5">DM Tau</text><text x="565.7" y="23.5">HCN</text>
<text x="685.2" y="13.5">DM Tau</text><text x="685.2" y="23.5">CN</text>

<text x="207.2" y="131.5">AA Tau</text><text x="207.2" y="141.5">Continuum</text>
<text x="326.7" y="131.5">AA Tau</text><text x="326.7" y="141.5">CO 2−1</text>
<text x="446.2" y="131.5">AA Tau</text><text x="446.2" y="141.5">HCO<tspan font-size="6" dy="-3.5">+</tspan><tspan dy="3.5"> 3−2</tspan></text>
<text x="565.7" y="131.5">AA Tau</text><text x="565.7" y="141.5">HCN</text>
<text x="685.2" y="131.5">AA Tau</text><text x="685.2" y="141.5">CN</text>

<text x="207.2" y="249.5">LkCa 15</text><text x="207.2" y="259.5">Continuum</text>
<text x="326.7" y="249.5">LkCa 15</text><text x="326.7" y="259.5">CO 2−1</text>
<text x="446.2" y="249.5">LkCa 15</text><text x="446.2" y="259.5">HCO<tspan font-size="6" dy="-3.5">+</tspan><tspan dy="3.5"> 3−2</tspan></text>
<text x="565.7" y="249.5">LkCa 15</text><text x="565.7" y="259.5">HCN</text>
<text x="685.2" y="249.5">LkCa 15</text><text x="685.2" y="259.5">CN</text>

<text x="207.2" y="367.5">GM Aur</text><text x="207.2" y="377.5">Continuum</text>
<text x="326.7" y="367.5">GM Aur</text><text x="326.7" y="377.5">CO 2−1</text>
<text x="446.2" y="367.5">GM Aur</text><text x="446.2" y="377.5">HCO<tspan font-size="6" dy="-3.5">+</tspan><tspan dy="3.5"> 3−2</tspan></text>
<text x="565.7" y="367.5">GM Aur</text><text x="565.7" y="377.5">HCN</text>
<text x="685.2" y="367.5">GM Aur</text><text x="685.2" y="377.5">CN</text>

<text x="207.2" y="485.5">CQ Tau</text><text x="207.2" y="495.5">Continuum</text>
<text x="326.7" y="485.5">CQ Tau</text><text x="326.7" y="495.5">CO 2−1</text>
<text x="446.2" y="485.5">CQ Tau</text><text x="446.2" y="495.5">HCO<tspan font-size="6" dy="-3.5">+</tspan><tspan dy="3.5"> 3−2</tspan></text>
<text x="565.7" y="485.5">CQ Tau</text><text x="565.7" y="495.5">HCN</text>
<text x="685.2" y="485.5">CQ Tau</text><text x="685.2" y="495.5">CN</text>

<text x="207.2" y="603.5">MWC 480</text><text x="207.2" y="613.5">Continuum</text>
<text x="326.7" y="603.5">MWC 480</text><text x="326.7" y="613.5">CO 2−1</text>
<text x="446.2" y="603.5">MWC 480</text><text x="446.2" y="613.5">HCO<tspan font-size="6" dy="-3.5">+</tspan><tspan dy="3.5"> 3−2</tspan></text>
<text x="565.7" y="603.5">MWC 480</text><text x="565.7" y="613.5">HCN</text>
<text x="685.2" y="603.5">MWC 480</text><text x="685.2" y="613.5">CN</text>

<g text-anchor="end">
<text x="415.5" y="87.5">−24 deg</text><text x="415.5" y="96.5">6.1"/5.7"</text>
<text x="415.5" y="205.5">85 deg</text><text x="415.5" y="214.5">4.5"/3.9"</text>
<text x="415.5" y="323.5">63 deg</text><text x="415.5" y="332.5">5.4/4.6"</text>
<text x="415.5" y="441.5">39 deg</text><text x="415.5" y="450.5">4.8"/4.3"</text>
<text x="415.5" y="559.5">−74 deg</text><text x="415.5" y="568.5">3.3"/2.7"</text>
<text x="415.5" y="677.5">−15 deg</text><text x="415.5" y="686.5">5.0"/3.9"</text>
</g>
</g>

<g font-family="Liberation Serif, serif" font-size="13" fill="#111" stroke="#111" stroke-width="0.2">
<text x="98" y="720" text-anchor="middle">λ [mm]</text>
<text x="487" y="720" text-anchor="middle">Δ<tspan font-style="italic">α</tspan> ["]</text>
<text transform="translate(11,361) rotate(-90)" text-anchor="middle"><tspan font-style="italic">F</tspan><tspan font-style="italic" font-size="9" dy="3">ν</tspan><tspan dy="-3"> [Jy]</tspan></text>
<text transform="translate(183,362) rotate(-90)" text-anchor="middle">Δ<tspan font-style="italic">δ</tspan> ["]</text>
</g>
</svg>
</body></html>
